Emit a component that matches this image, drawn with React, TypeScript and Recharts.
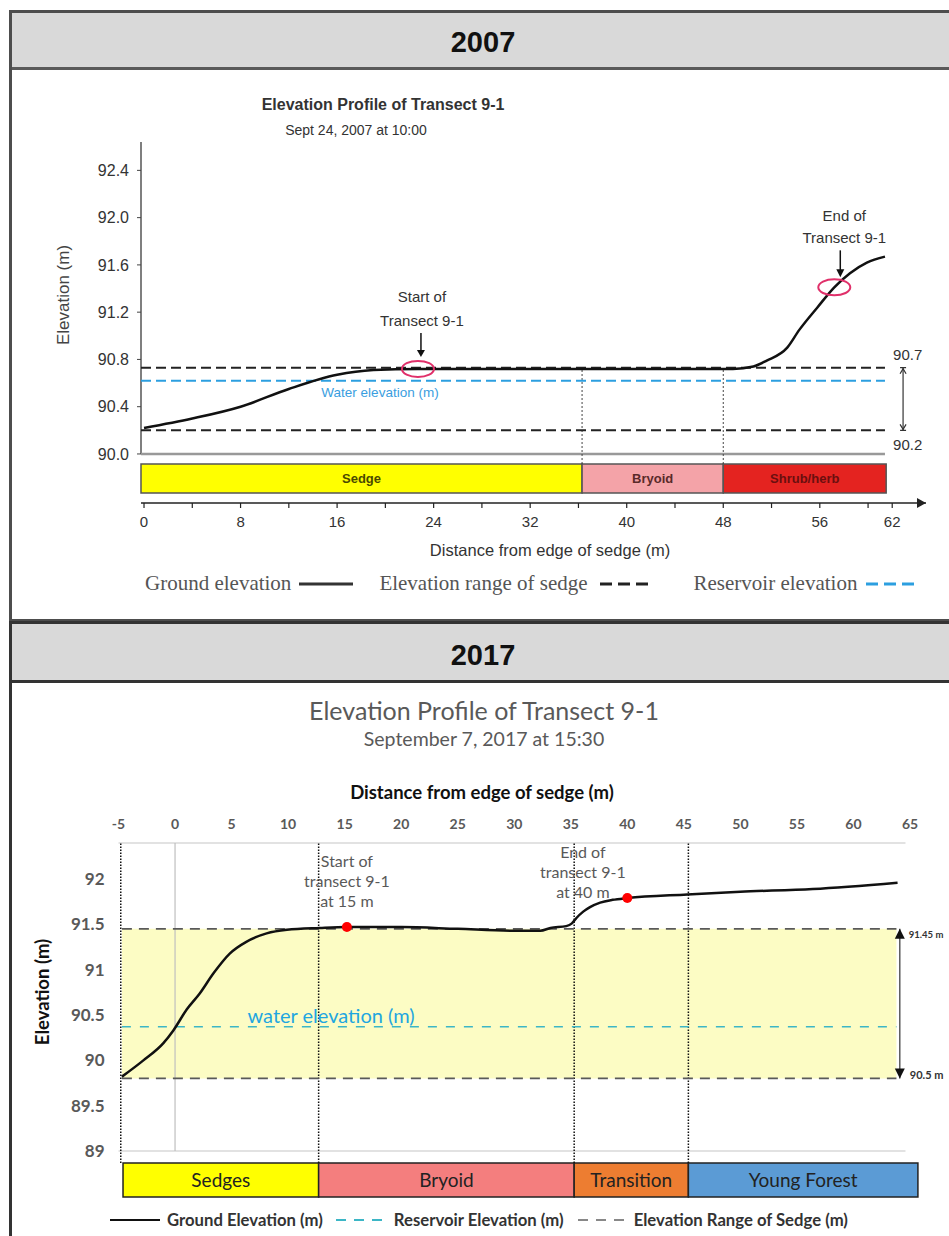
import React from "react";
import {
  ComposedChart, Line, XAxis, YAxis, ReferenceArea, ReferenceLine, ReferenceDot,
} from "recharts";

// ---------- 2007 survey ----------
const ground07X = [0, 4, 8, 12, 16, 19, 22.7, 30, 40, 48.8, 50.5, 51.6, 53.3, 54.3, 55.8, 57.2, 58.5, 59.9, 61.4];
const ground07Y = [90.22, 90.3, 90.4, 90.55, 90.67, 90.71, 90.72, 90.72, 90.72, 90.72, 90.74, 90.79, 90.9, 91.05, 91.24, 91.41, 91.53, 91.62, 91.67];
const sedgeRange07 = [90.2, 90.73];
const water07 = 90.62;
const lineEnds07 = [-0.25, 61.4];
const zoneNames07 = ["Sedge", "Bryoid", "Shrub/herb"];
const zoneBounds07 = [-0.25, 36.3, 48.0, 61.5];
const dividers07 = [36.3, 48.0];
const xTicks07 = [0, 4, 8, 12, 16, 20, 24, 28, 32, 36, 40, 44, 48, 52, 56, 60, 62];
const xLabels07 = [0, 8, 16, 24, 32, 40, 48, 56, 62];
const yTicks07 = [90.0, 90.4, 90.8, 91.2, 91.6, 92.0, 92.4];
const start07 = { x: 22.7, y: 90.72 };
const end07 = { x: 57.2, y: 91.41 };

// ---------- 2017 survey ----------
const ground17X = [-4.7, -2.8, -1.03, -0.15, 1.03, 2.2, 3.4, 4.86, 6.34, 8.1, 9.9, 12.8, 15.2, 20, 25, 30, 32.3, 33.2, 34.6, 35.1, 35.5, 36.1, 36.7, 37.6, 38.7, 40, 45.3, 50, 56.4, 63.9];
const ground17Y = [89.82, 90.0, 90.19, 90.33, 90.56, 90.74, 90.96, 91.18, 91.31, 91.4, 91.44, 91.46, 91.47, 91.47, 91.45, 91.43, 91.43, 91.46, 91.48, 91.51, 91.57, 91.64, 91.69, 91.74, 91.77, 91.79, 91.83, 91.86, 91.89, 91.96];
const sedgeRange17 = [89.8, 91.45];
const sedgeRangeLabels17 = ["90.5 m", "91.45 m"];
const water17 = 90.37;
const lineEnds17 = [-4.7, 63.8];
const zoneNames17 = ["Sedges", "Bryoid", "Transition", "Young Forest"];
const zoneBounds17 = [-4.6, 12.7, 35.3, 45.4, 65.7];
const dividers17 = [-4.8, 12.7, 35.3, 45.4];
const xTicks17 = [-5, 0, 5, 10, 15, 20, 25, 30, 35, 40, 45, 50, 55, 60, 65];
const yTicks17 = [89, 89.5, 90, 90.5, 91, 91.5, 92];
const markers17 = [{ x: 15.2, y: 91.47 }, { x: 40, y: 91.79 }];

const ZONE07 = ["#ffff00", "#f4a3a8", "#e42320"];
const ZONE07_TEXT = ["#4a4a00", "#5a2a2a", "#6b0f0f"];
const ZONE17 = ["#ffff00", "#f47e7e", "#ed7d31", "#5b9bd5"];

const F07 = "'Liberation Sans', Arial, sans-serif";
const F07S = "'Liberation Serif', 'Times New Roman', serif";
const F17 = "Lato, 'Open Sans', sans-serif";

const pts = (xs: number[], ys: number[]) => xs.map((x, i) => ({ x, y: ys[i] }));
const flat = (ends: number[], y: number) => [{ x: ends[0], y }, { x: ends[1], y }];

function Txt({ x, y, children, style }: { x: number; y: number; children: React.ReactNode; style?: React.CSSProperties }) {
  return (
    <div style={{ position: "absolute", left: x, top: y, transform: "translate(-50%,-50%)", whiteSpace: "nowrap", lineHeight: 1, ...style }}>
      {children}
    </div>
  );
}

function Swatch({ color, dash, width = 52, thick = 3 }: { color: string; dash?: string; width?: number; thick?: number }) {
  return (
    <svg width={width} height={8} style={{ display: "block" }}>
      <line x1={0} x2={width} y1={4} y2={4} stroke={color} strokeWidth={thick} strokeDasharray={dash} />
    </svg>
  );
}

function Chart2007() {
  const xMin = -0.25, xMax = 64.8, yMin = 89.585, yMax = 92.64;
  const bandLow = 89.67, bandHigh = 89.915;
  return (
    <div style={{ position: "absolute", left: 0, top: 0 }}>
      <ComposedChart width={949} height={620} margin={{ top: 142, right: 23, bottom: 87, left: 81 }}>
        <XAxis type="number" dataKey="x" domain={[xMin, xMax]} allowDataOverflow ticks={xTicks07} interval={0}
          height={30} tickSize={5} tickMargin={8}
          axisLine={{ stroke: "#222", strokeWidth: 1.5 }} tickLine={{ stroke: "#222", strokeWidth: 1.2 }}
          tick={(p: any) => xLabels07.includes(p.payload.value) ? (
            <text x={p.x} y={p.y} dy="0.71em" textAnchor="middle" fill="#333" fontSize={15} fontFamily={F07}>{p.payload.value}</text>
          ) : <g />} />
        <YAxis type="number" domain={[yMin, yMax]} allowDataOverflow ticks={yTicks07} interval={0} width={60}
          axisLine={false} tickSize={4} tickMargin={8} tickLine={{ stroke: "#444" }}
          tickFormatter={(v: number) => v.toFixed(1)}
          tick={{ fill: "#333", fontSize: 16, fontFamily: F07 }} />

        {zoneNames07.map((n, i) => (
          <ReferenceArea key={n} x1={zoneBounds07[i]} x2={zoneBounds07[i + 1]} y1={bandLow} y2={bandHigh}
            fill={ZONE07[i]} fillOpacity={1} stroke="#555" strokeWidth={1.5} ifOverflow="visible"
            label={{ value: n, position: "center", fill: ZONE07_TEXT[i], fontSize: 13, fontWeight: 700, fontFamily: F07 }} />
        ))}

        <ReferenceLine segment={[{ x: xMin, y: 90 }, { x: xMin, y: yMax }]} stroke="#555" strokeWidth={1.5} ifOverflow="visible" />
        <ReferenceLine segment={[{ x: xMin, y: 90 }, { x: lineEnds07[1], y: 90 }]} stroke="#999" strokeWidth={2.5} ifOverflow="visible" />
        {dividers07.map((d) => (
          <ReferenceLine key={d} segment={[{ x: d, y: bandHigh }, { x: d, y: 90.72 }]} stroke="#444" strokeWidth={1} strokeDasharray="2 2" ifOverflow="visible" />
        ))}

        <Line data={flat(lineEnds07, water07)} dataKey="y" stroke="#2c9fe0" strokeWidth={2} strokeDasharray="10 5" dot={false} isAnimationActive={false} />
        <Line data={flat(lineEnds07, sedgeRange07[1])} dataKey="y" stroke="#222" strokeWidth={2} strokeDasharray="10 5" dot={false} isAnimationActive={false} />
        <Line data={flat(lineEnds07, sedgeRange07[0])} dataKey="y" stroke="#222" strokeWidth={2} strokeDasharray="10 5" dot={false} isAnimationActive={false} />
        <Line data={pts(ground07X, ground07Y)} dataKey="y" type="monotone" stroke="#111" strokeWidth={2.5} dot={false} isAnimationActive={false} />

        {/* range arrow on the right */}
        <ReferenceLine segment={[{ x: 62.9, y: sedgeRange07[0] }, { x: 62.9, y: sedgeRange07[1] }]} stroke="#333" strokeWidth={1.2} ifOverflow="visible" />
        <ReferenceDot x={62.9} y={sedgeRange07[1]} ifOverflow="visible" shape={(p: any) => (
          <g>
            <path d={`M${p.cx - 3},${p.cy} L${p.cx + 3},${p.cy} M${p.cx - 3},${p.cy + 6} L${p.cx},${p.cy + 1} L${p.cx + 3},${p.cy + 6}`} stroke="#333" fill="none" strokeWidth={1.2} />
            <text x={p.cx - 10} y={p.cy - 8} fill="#333" fontSize={15} fontFamily={F07}>{sedgeRange07[1].toFixed(1)}</text>
          </g>
        )} />
        <ReferenceDot x={62.9} y={sedgeRange07[0]} ifOverflow="visible" shape={(p: any) => (
          <g>
            <path d={`M${p.cx - 3},${p.cy} L${p.cx + 3},${p.cy} M${p.cx - 3},${p.cy - 6} L${p.cx},${p.cy - 1} L${p.cx + 3},${p.cy - 6}`} stroke="#333" fill="none" strokeWidth={1.2} />
            <text x={p.cx - 10} y={p.cy + 20} fill="#333" fontSize={15} fontFamily={F07}>{sedgeRange07[0].toFixed(1)}</text>
          </g>
        )} />

        {/* transect start / end */}
        <ReferenceDot x={start07.x} y={start07.y} ifOverflow="visible" shape={(p: any) => (
          <g fontFamily={F07} fontSize={15} fill="#333" textAnchor="middle">
            <ellipse cx={p.cx} cy={p.cy} rx={16} ry={8} fill="none" stroke="#e0306a" strokeWidth={2} />
            <text x={p.cx + 4} y={p.cy - 67}>Start of</text>
            <text x={p.cx + 4} y={p.cy - 43}>Transect 9-1</text>
            <line x1={p.cx + 3} x2={p.cx + 3} y1={p.cy - 36} y2={p.cy - 18} stroke="#111" strokeWidth={1.5} />
            <path d={`M${p.cx - 1},${p.cy - 19} L${p.cx + 7},${p.cy - 19} L${p.cx + 3},${p.cy - 12} Z`} fill="#111" />
          </g>
        )} />
        <ReferenceDot x={end07.x} y={end07.y} ifOverflow="visible" shape={(p: any) => (
          <g fontFamily={F07} fontSize={15} fill="#333" textAnchor="middle">
            <ellipse cx={p.cx} cy={p.cy} rx={16} ry={8} fill="none" stroke="#e0306a" strokeWidth={2} />
            <text x={p.cx + 10} y={p.cy - 66}>End of</text>
            <text x={p.cx + 10} y={p.cy - 44}>Transect 9-1</text>
            <line x1={p.cx + 6} x2={p.cx + 6} y1={p.cy - 37} y2={p.cy - 17} stroke="#111" strokeWidth={1.5} />
            <path d={`M${p.cx + 2},${p.cy - 18} L${p.cx + 10},${p.cy - 18} L${p.cx + 6},${p.cy - 10} Z`} fill="#111" />
          </g>
        )} />
        {/* axis arrowhead */}
        <ReferenceDot x={xMax} y={yMin} ifOverflow="visible" shape={(p: any) => (
          <path d={`M${p.cx - 9},${p.cy - 5} L${p.cx},${p.cy} L${p.cx - 9},${p.cy + 5} Z`} fill="#222" />
        )} />
      </ComposedChart>
    </div>
  );
}

function Chart2017() {
  const xMin = -5, xMax = 65, yMin = 88.493, yMax = 92.397;
  const bandLow = 88.493, bandHigh = 88.868;
  return (
    <div style={{ position: "absolute", left: 0, top: 682 }}>
      <ComposedChart width={949} height={554} margin={{ top: 131, right: 39, bottom: 39, left: 58.5 }}>
        <XAxis type="number" dataKey="x" orientation="top" domain={[xMin, xMax]} allowDataOverflow ticks={xTicks17} interval={0}
          height={30} tickSize={6} tickMargin={8} axisLine={false} tickLine={false}
          tick={{ fill: "#595959", fontSize: 14, fontWeight: 700, fontFamily: F17 }} />
        <YAxis type="number" domain={[yMin, yMax]} allowDataOverflow ticks={yTicks17} interval={0} width={60}
          axisLine={false} tickLine={false} tickSize={6} tickMargin={8}
          tick={{ fill: "#595959", fontSize: 17, fontWeight: 700, fontFamily: F17 }} />

        <ReferenceArea x1={lineEnds17[0]} x2={lineEnds17[1]} y1={sedgeRange17[0]} y2={sedgeRange17[1]}
          fill="#fcfcc4" fillOpacity={1} stroke="none" ifOverflow="visible" />
        {zoneNames17.map((n, i) => (
          <ReferenceArea key={n} x1={zoneBounds17[i]} x2={zoneBounds17[i + 1]} y1={bandLow} y2={bandHigh}
            fill={ZONE17[i]} fillOpacity={1} stroke="#222" strokeWidth={1.5} ifOverflow="visible"
            label={{ value: n, position: "center", fill: "#222", fontSize: 19, fontFamily: F17 }} />
        ))}

        <ReferenceLine segment={[{ x: xMin, y: 89 }, { x: 64.6, y: 89 }]} stroke="#d9d9d9" strokeWidth={1.5} ifOverflow="visible" />
        <ReferenceLine segment={[{ x: xMin, y: yMax }, { x: 64.6, y: yMax }]} stroke="#d9d9d9" strokeWidth={1.5} ifOverflow="visible" />
        <ReferenceLine segment={[{ x: 0, y: 89 }, { x: 0, y: yMax }]} stroke="#bfbfbf" strokeWidth={1.2} ifOverflow="visible" />
        {dividers17.map((d) => (
          <ReferenceLine key={d} segment={[{ x: d, y: bandHigh }, { x: d, y: yMax }]} stroke="#111" strokeWidth={1.5} strokeDasharray="1.5 1.5" ifOverflow="visible" />
        ))}

        <Line data={flat(lineEnds17, water17)} dataKey="y" stroke="#3cb6c6" strokeWidth={1.5} strokeDasharray="9 9" dot={false} isAnimationActive={false} />
        <Line data={flat(lineEnds17, sedgeRange17[1])} dataKey="y" stroke="#595959" strokeWidth={1.75} strokeDasharray="10 7" dot={false} isAnimationActive={false} />
        <Line data={flat(lineEnds17, sedgeRange17[0])} dataKey="y" stroke="#595959" strokeWidth={1.75} strokeDasharray="10 7" dot={false} isAnimationActive={false} />
        <Line data={pts(ground17X, ground17Y)} dataKey="y" type="monotone" stroke="#111" strokeWidth={2.5} dot={false} isAnimationActive={false} />
        {markers17.map((m) => (
          <ReferenceDot key={m.x} x={m.x} y={m.y} r={5} fill="#ff0000" stroke="none" ifOverflow="visible" />
        ))}

        <ReferenceLine segment={[{ x: 64.1, y: sedgeRange17[0] }, { x: 64.1, y: sedgeRange17[1] }]} stroke="#333" strokeWidth={1.2} ifOverflow="visible" />
        <ReferenceDot x={64.1} y={sedgeRange17[1]} ifOverflow="visible" shape={(p: any) => (
          <g>
            <path d={`M${p.cx},${p.cy} L${p.cx - 5},${p.cy + 10} L${p.cx + 5},${p.cy + 10} Z`} fill="#111" />
            <text x={p.cx + 9} y={p.cy + 9} fill="#333" fontSize={9.5} fontWeight={700} fontFamily={F17}>{sedgeRangeLabels17[1]}</text>
          </g>
        )} />
        <ReferenceDot x={64.1} y={sedgeRange17[0]} ifOverflow="visible" shape={(p: any) => (
          <g>
            <path d={`M${p.cx},${p.cy} L${p.cx - 5},${p.cy - 10} L${p.cx + 5},${p.cy - 10} Z`} fill="#111" />
            <text x={p.cx + 10} y={p.cy + 1} fill="#333" fontSize={11} fontWeight={700} fontFamily={F17}>{sedgeRangeLabels17[0]}</text>
          </g>
        )} />

        <ReferenceDot x={15.2} y={91.97} ifOverflow="visible" shape={(p: any) => (
          <g fontFamily={F17} fontSize={16} fill="#595959" textAnchor="middle">
            <text x={p.cx} y={p.cy - 15}>Start of</text>
            <text x={p.cx} y={p.cy + 5}>transect 9-1</text>
            <text x={p.cx} y={p.cy + 25}>at  15 m</text>
          </g>
        )} />
        <ReferenceDot x={36.07} y={92.07} ifOverflow="visible" shape={(p: any) => (
          <g fontFamily={F17} fontSize={16} fill="#595959" textAnchor="middle">
            <text x={p.cx} y={p.cy - 15}>End of</text>
            <text x={p.cx} y={p.cy + 5}>transect 9-1</text>
            <text x={p.cx} y={p.cy + 25}>at 40 m</text>
          </g>
        )} />
        <ReferenceDot x={13.8} y={water17} ifOverflow="visible" shape={(p: any) => (
          <text x={p.cx} y={p.cy - 4} textAnchor="middle" fill="#1fa6e0" fontSize={20} fontFamily={F17}>water elevation (m)</text>
        )} />
      </ComposedChart>
    </div>
  );
}

export default function App() {
  return (
    <div style={{ position: "absolute", left: 0, top: 0, width: 949, height: 1236, background: "#fff", overflow: "hidden" }}>
      {/* 2007 frame */}
      <div style={{ position: "absolute", left: 9, top: 10, width: 960, height: 612, border: "3px solid #4d4d4d", boxSizing: "border-box" }} />
      <div style={{ position: "absolute", left: 12, top: 13, width: 960, height: 57, background: "#d9d9d9", borderBottom: "3px solid #5a5a5a", boxSizing: "border-box" }} />
      <Txt x={483} y={42} style={{ fontFamily: F07, fontWeight: 700, fontSize: 29, color: "#111" }}>2007</Txt>

      {/* 2017 frame */}
      <div style={{ position: "absolute", left: 9, top: 621, width: 960, height: 640, border: "3px solid #333", boxSizing: "border-box" }} />
      <div style={{ position: "absolute", left: 12, top: 624, width: 960, height: 59, background: "#d9d9d9", borderBottom: "3px solid #333", boxSizing: "border-box" }} />
      <Txt x={483} y={655} style={{ fontFamily: F07, fontWeight: 700, fontSize: 29, color: "#111" }}>2017</Txt>

      <Chart2007 />
      <Txt x={383} y={105} style={{ fontFamily: F07, fontWeight: 700, fontSize: 16, color: "#333" }}>Elevation Profile of Transect 9-1</Txt>
      <Txt x={356} y={130} style={{ fontFamily: F07, fontSize: 14, color: "#333" }}>Sept 24, 2007 at 10:00</Txt>
      <Txt x={63} y={295} style={{ fontFamily: F07, fontSize: 17, color: "#444", transform: "translate(-50%,-50%) rotate(-90deg)" }}>Elevation (m)</Txt>
      <Txt x={380} y={393} style={{ fontFamily: F07, fontSize: 13.5, color: "#3a9ee0" }}>Water elevation (m)</Txt>
      <Txt x={550} y={550} style={{ fontFamily: F07, fontSize: 16.5, color: "#333" }}>Distance from edge of sedge (m)</Txt>
      <div style={{ position: "absolute", left: 145, top: 571, display: "flex", alignItems: "center", fontFamily: F07S, fontSize: 21, color: "#555", whiteSpace: "nowrap" }}>
        <span>Ground elevation</span>
        <span style={{ marginLeft: 8 }}><Swatch color="#333" width={54} /></span>
        <span style={{ marginLeft: 26 }}>Elevation range of sedge</span>
        <span style={{ marginLeft: 12 }}><Swatch color="#222" dash="12 6" /></span>
        <span style={{ marginLeft: 42 }}>Reservoir elevation</span>
        <span style={{ marginLeft: 9 }}><Swatch color="#2c9fe0" dash="12 6" width={54} /></span>
      </div>

      <Chart2017 />
      <Txt x={484} y={710} style={{ fontFamily: F17, fontSize: 25, color: "#595959" }}>Elevation Profile of Transect 9-1</Txt>
      <Txt x={484} y={739} style={{ fontFamily: F17, fontSize: 19.5, color: "#595959" }}>September 7, 2017 at 15:30</Txt>
      <Txt x={482} y={792} style={{ fontFamily: F17, fontSize: 18.5, fontWeight: 700, color: "#111" }}>Distance from edge of sedge (m)</Txt>
      <Txt x={42} y={992} style={{ fontFamily: F17, fontSize: 18.5, fontWeight: 700, color: "#111", transform: "translate(-50%,-50%) rotate(-90deg)" }}>Elevation (m)</Txt>
      <div style={{ position: "absolute", left: 110, top: 1210, display: "flex", alignItems: "center", fontFamily: F17, fontSize: 16.7, fontWeight: 700, color: "#333", whiteSpace: "nowrap" }}>
        <Swatch color="#111" width={50} thick={2} />
        <span style={{ marginLeft: 7 }}>Ground Elevation (m)</span>
        <span style={{ marginLeft: 13 }}><Swatch color="#3cb6c6" dash="10 8" width={50} thick={2} /></span>
        <span style={{ marginLeft: 8 }}>Reservoir Elevation (m)</span>
        <span style={{ marginLeft: 14 }}><Swatch color="#888" dash="10 8" width={48} thick={2} /></span>
        <span style={{ marginLeft: 8 }}>Elevation Range of Sedge (m)</span>
      </div>
    </div>
  );
}
